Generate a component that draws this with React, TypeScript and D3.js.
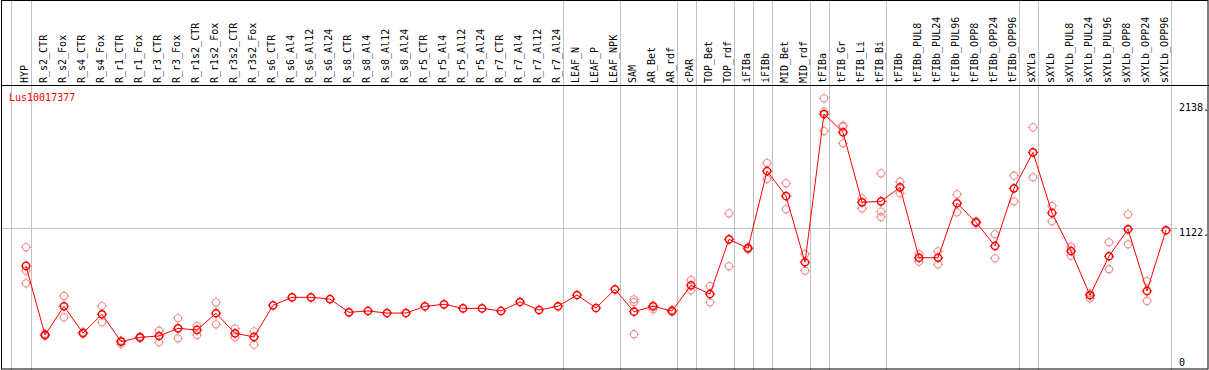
import React from "react";
import * as d3 from "d3";

const samples = [
  "HYP", "R_s2_CTR", "R_s2_Fox", "R_s4_CTR", "R_s4_Fox", "R_r1_CTR", "R_r1_Fox", "R_r3_CTR", "R_r3_Fox",
  "R_r1s2_CTR", "R_r1s2_Fox", "R_r3s2_CTR", "R_r3s2_Fox", "R_s6_CTR", "R_s6_Al4", "R_s6_Al12", "R_s6_Al24",
  "R_s8_CTR", "R_s8_Al4", "R_s8_Al12", "R_s8_Al24", "R_r5_CTR", "R_r5_Al4", "R_r5_Al12", "R_r5_Al24",
  "R_r7_CTR", "R_r7_Al4", "R_r7_Al12", "R_r7_Al24", "LEAF_N", "LEAF_P", "LEAF_NPK", "SAM", "AR_Bet", "AR_rdf",
  "cPAR", "TOP_Bet", "TOP_rdf", "iFIBa", "iFIBb", "MID_Bet", "MID_rdf", "tFIBa", "tFIB_Gr", "tFIB_Li", "tFIB_Bi",
  "tFIBb", "tFIBb_PUL8", "tFIBb_PUL24", "tFIBb_PUL96", "tFIBb_OPP8", "tFIBb_OPP24", "tFIBb_OPP96",
  "sXYLa", "sXYLb", "sXYLb_PUL8", "sXYLb_PUL24", "sXYLb_PUL96", "sXYLb_OPP8", "sXYLb_OPP24", "sXYLb_OPP96",
];

const means = [
  815, 252, 486, 268, 421, 198, 233, 244, 306, 293, 429, 266, 236, 494, 559, 559, 545, 437, 448, 431, 431,
  486, 502, 469, 469, 448, 521, 456, 486, 578, 472, 624, 442, 486, 448, 657, 586, 1032, 959, 1589, 1385,
  845, 2054, 1905, 1334, 1342, 1456, 882, 882, 1326, 1171, 978, 1448, 1741, 1247, 937, 576, 894, 1114, 611, 1106,
];

const replicates: number[][] = [
  [967, 776, 673], [245, 262], [570, 396], [262, 275], [488, 355], [178, 205], [228, 238], [287, 192],
  [390, 225], [325, 252], [518, 339], [304, 233], [282, 173], [], [], [], [], [], [], [], [], [], [], [],
  [], [], [], [], [], [], [], [], [543, 521, 258], [461, 492], [440, 455], [700, 616], [651, 518],
  [1244, 812], [950, 968], [1654, 1524], [1489, 1277], [912, 776], [2182, 1915, 2073], [1950, 1815, 1960],
  [1366, 1285], [1570, 1258, 1214], [1502, 1407], [912, 850], [934, 828], [1399, 1252], [1165, 1178],
  [1073, 877], [1551, 1342], [1945, 1538], [1304, 1179], [972, 899], [592, 551], [1008, 788], [1236, 992],
  [692, 529], [],
];

// last sample index of each group (-1 = left edge of the first group)
const groupEnds = [-1, 0, 28, 31, 34, 35, 37, 38, 39, 41, 42, 45, 52, 53, 60];

const axisTicks = [0, 1122, 2138];
const gridTicks = [1122];
const geneName = "Lus10017377";

const W = 1209;
const H = 370;
const HEADER = 85;
const FONT = "'DejaVu Sans Mono', monospace";

function Marker({ cx, cy, color, sw }: { cx: number; cy: number; color: string; sw: number }) {
  const r = 3.6;
  const t = 1.6;
  return (
    <g stroke={color} strokeWidth={sw} fill="none">
      <circle cx={cx} cy={cy} r={r} />
      <line x1={cx} y1={cy - r} x2={cx} y2={cy - r - t} strokeWidth={1} />
      <line x1={cx} y1={cy + r} x2={cx} y2={cy + r + t} strokeWidth={1} />
      <line x1={cx - r} y1={cy} x2={cx - r - t} y2={cy} strokeWidth={1} />
      <line x1={cx + r} y1={cy} x2={cx + r + t} y2={cy} strokeWidth={1} />
    </g>
  );
}

export default function App() {
  const x = d3.scalePoint<string>().domain(samples).range([26, 1166]).padding(0);
  const step = x.step();
  const y = d3.scaleLinear().domain([0, 2138]).range([365.9, 103.7]);
  const xi = (i: number) => (x(samples[0]) as number) + i * step;

  const line = d3
    .line<number>()
    .x((_, i) => x(samples[i]) as number)
    .y((d) => y(d));

  const axisX = xi(groupEnds[groupEnds.length - 1]) + 4.5;

  return (
    <svg
      width={W}
      height={H}
      style={{ position: "absolute", left: 0, top: 0, background: "#fff" }}
      fontFamily={FONT}
    >
      <rect x={0} y={0} width={W} height={H} fill="#fff" />
      {/* group separators */}
      {groupEnds.map((g, k) => {
        const gx = Math.round(xi(g) + 4.5) + (g < 0 ? -1 : 0) + 0.5 - 0.5;
        return (
          <line key={k} x1={gx + 0.5} x2={gx + 0.5} y1={0} y2={H} stroke="#c0c0c0" strokeWidth={1} />
        );
      })}
      {/* horizontal grid */}
      {gridTicks.map((t) => (
        <line key={t} x1={1} x2={1177} y1={Math.round(y(t)) + 0.5} y2={Math.round(y(t)) + 0.5} stroke="#c0c0c0" strokeWidth={1} />
      ))}
      {/* frame */}
      <rect x={1.5} y={0.5} width={W - 2.5} height={H - 1.5} fill="none" stroke="#000" strokeWidth={1} />
      <line x1={1} x2={W} y1={HEADER + 0.5} y2={HEADER + 0.5} stroke="#000" strokeWidth={1} />

      {/* column labels */}
      {samples.map((s) => {
        const lx = (x(s) as number) + 2.2;
        return (
          <text key={s} transform={`translate(${lx},83) rotate(-90)`} fontSize={10} fill="#000">
            {s}
          </text>
        );
      })}

      {/* right axis labels */}
      {axisTicks.map((t) => (
        <text key={t} x={axisX + 8.5} y={Math.min(y(t) + 7.6, 365.5)} fontSize={10} fill="#000">
          {t === 0 ? "0" : `${t}.`}
        </text>
      ))}

      <text x={9} y={100.5} fontSize={10} fill="#ff0000">
        {geneName}
      </text>

      {/* replicate points */}
      {replicates.map((reps, i) =>
        reps.map((v, j) => (
          <Marker key={`${i}-${j}`} cx={x(samples[i]) as number} cy={y(v)} color="#f09090" sw={1.1} />
        ))
      )}

      {/* mean line */}
      <path d={line(means) || ""} fill="none" stroke="#ff0000" strokeWidth={1} />

      {/* mean points */}
      {means.map((v, i) => (
        <Marker key={i} cx={x(samples[i]) as number} cy={y(v)} color="#ff0000" sw={1.5} />
      ))}
    </svg>
  );
}
